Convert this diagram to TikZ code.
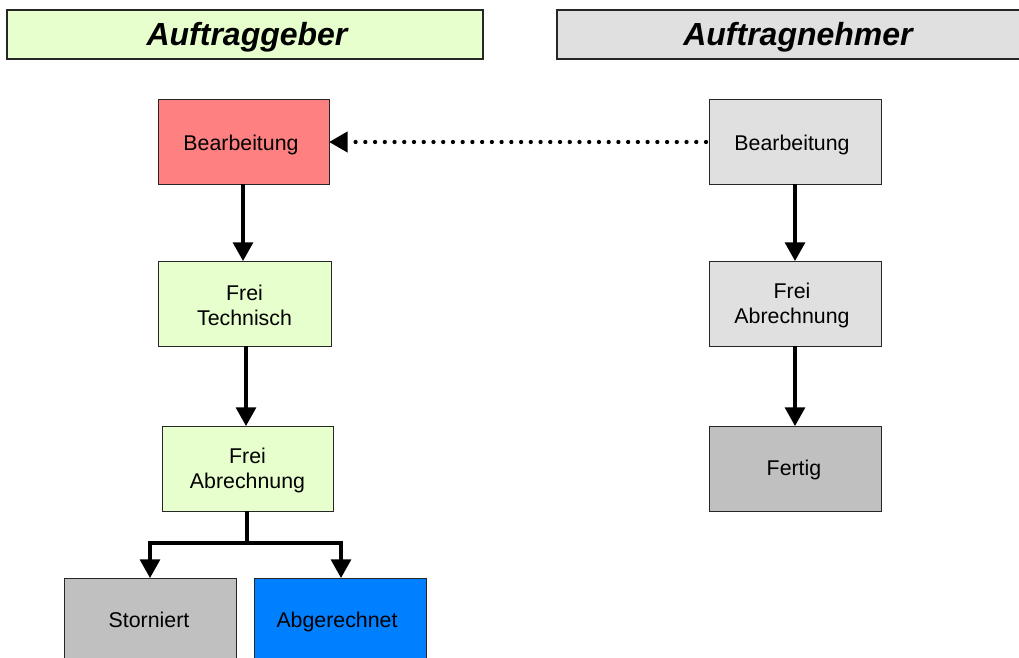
\documentclass[tikz,border=0pt]{standalone}
\usepackage{fontspec}
\setmainfont{Liberation Sans}
\usetikzlibrary{arrows.meta}
\definecolor{hgreen}{HTML}{E6FFCC}
\definecolor{hgray}{HTML}{E0E0E0}
\definecolor{bred}{HTML}{FF8080}
\definecolor{bgreen}{HTML}{E6FFCC}
\definecolor{bgray}{HTML}{E0E0E0}
\definecolor{dgray}{HTML}{C0C0C0}
\definecolor{bblue}{HTML}{0080FF}
\begin{document}
\begin{tikzpicture}[x=0.75pt,y=-0.75pt,
  header/.style={draw=black!85,line width=0.8pt},
  htext/.style={font=\fontsize{24}{28}\selectfont\bfseries\itshape,anchor=base},
  box/.style={draw=black!85,line width=0.7pt},
  btext/.style={font=\fontsize{16}{19}\selectfont,align=center},
  flow/.style={line width=2.3pt,-{Triangle[length=14pt,width=15pt]}},
  dots/.style={line width=3.2pt,line cap=round,dash pattern=on 0pt off 7.3pt,-{Triangle[length=14pt,width=15pt]}}]
\useasboundingbox (0,0) rectangle (1019,657);
% headers
\draw[header,fill=hgreen] (7,10) rectangle (483,59);
\node[htext] (hl) at (247,45) {Auftraggeber};
\draw[header,fill=hgray] (557,10) rectangle (1030,59);
\node[htext] (hr) at (798,45) {Auftragnehmer};
% left column
\draw[box,fill=bred] (158,99) rectangle (329,184);
\node[btext,anchor=base] (lb) at (241,150) {Bearbeitung};
\coordinate (lbE) at (329,142);
\draw[box,fill=bgreen] (158,261) rectangle (331,346);
\node[btext] (lt) at (244.5,305.5) {Frei\\Technisch};
\draw[box,fill=bgreen] (162,426) rectangle (333,511);
\node[btext] (la) at (247.5,470.5) {Frei\\Abrechnung};
\draw[box,fill=dgray] (64,578) rectangle (236,670);
\node[btext,anchor=base] (ls) at (149,627) {Storniert};
\draw[box,fill=bblue] (254,578) rectangle (426,670);
\node[btext,anchor=base] (lg) at (337,627) {Abgerechnet};
% right column
\draw[box,fill=bgray] (709,99) rectangle (881,184);
\node[btext,anchor=base] (rb) at (792,150) {Bearbeitung};
\draw[box,fill=bgray] (709,261) rectangle (881,346);
\node[btext] (ra) at (792,305.5) {Frei\\Abrechnung};
\draw[box,fill=dgray] (709,426) rectangle (881,511);
\node[btext,anchor=base] (rf) at (794,475) {Fertig};
% coordinates for connectors
\coordinate (a1) at (243,184); \coordinate (a2) at (243,261);
\coordinate (b1) at (246,346); \coordinate (b2) at (246,426);
\coordinate (c1) at (247,511); \coordinate (cm) at (247,543);
\coordinate (cs) at (150,578); \coordinate (cg) at (341,578);
\coordinate (r1) at (795,184); \coordinate (r2) at (795,261);
\coordinate (r3) at (795,346); \coordinate (r4) at (795,426);
\coordinate (rbW) at (706,142);
% connectors
\draw[flow] (a1) -- (a2);
\draw[flow] (b1) -- (b2);
\draw[line width=2.3pt] (c1) -- (cm);
\draw[flow] (cm) -| (cs);
\draw[flow] (cm) -| (cg);
\draw[flow] (r1) -- (r2);
\draw[flow] (r3) -- (r4);
\draw[dots] (rbW) -- (lbE);
\end{tikzpicture}
\end{document}
